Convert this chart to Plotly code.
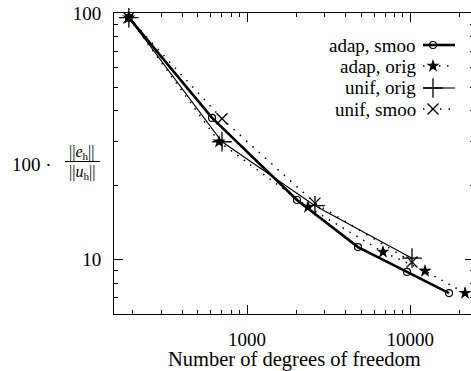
import plotly.graph_objects as go

# ---- data ----
adap_smoo_dofs = [189, 611, 2023, 4783, 9546, 17260]
adap_smoo_err = [95.7, 37.5, 17.4, 11.2, 8.88, 7.29]

adap_orig_dofs = [189, 674, 2363, 6804, 12300, 21630]
adap_orig_err = [95.7, 30.0, 16.3, 10.7, 8.96, 7.29]

unif_dofs = [189, 703, 2608, 10242]
unif_orig_err = [95.7, 30.0, 16.5, 10.1]
unif_smoo_err = [95.7, 37.2, 16.9, 9.75]

x_ticks = [1000, 10000]
x_tick_labels = ["1000", "10000"]
y_ticks = [10, 100]
y_tick_labels = ["10", "100"]
x_minor = [200, 300, 400, 500, 600, 700, 800, 900,
           2000, 3000, 4000, 5000, 6000, 7000, 8000, 9000, 20000]
y_minor = [7, 8, 9, 20, 30, 40, 50, 60, 70, 80, 90]

legend_names = ["adap, smoo", "adap, orig", "unif, orig", "unif, smoo"]

# ---- geometry ----
W, H = 475, 371
L, T, B, R = 114, 13, 57, 1
PW = W - L - R
PH = H - T - B
FONT = "Liberation Serif"


def px2paper(px, py):
    return (px - L) / PW, (H - B - py) / PH


styles = [
    dict(line=dict(color="black", width=2.6), marker=dict(symbol="circle-open", size=7, color="black", line=dict(width=1.2, color="black"))),
    dict(line=dict(color="black", width=1.5, dash="1.5px,6.5px"), marker=dict(symbol="star", size=10, color="black", line=dict(width=0))),
    dict(line=dict(color="black", width=1.1), marker=dict(symbol="cross-thin-open", size=14, color="black", line=dict(width=1.3, color="black"))),
    dict(line=dict(color="black", width=1.5, dash="1.5px,7px"), marker=dict(symbol="x-thin-open", size=11, color="black", line=dict(width=1.3, color="black"))),
]

series = [
    (adap_smoo_dofs, adap_smoo_err),
    (adap_orig_dofs, adap_orig_err),
    (unif_dofs, unif_orig_err),
    (unif_dofs, unif_smoo_err),
]

fig = go.Figure()
for (xs, ys), st, name in zip(series, styles, legend_names):
    fig.add_trace(go.Scatter(x=xs, y=ys, mode="lines+markers", name=name,
                             line=st["line"], marker=st["marker"], showlegend=False,
                             cliponaxis=False))

# legend keys drawn on an auxiliary pixel-like axis pair
row_y = [45, 66, 88, 109]
for ry, st, name in zip(row_y, styles, legend_names):
    fig.add_trace(go.Scatter(x=[423, 455], y=[ry, ry], mode="lines", line=st["line"],
                             xaxis="x2", yaxis="y2", showlegend=False, hoverinfo="skip"))
    fig.add_trace(go.Scatter(x=[433], y=[ry], mode="markers", marker=st["marker"],
                             xaxis="x2", yaxis="y2", showlegend=False, hoverinfo="skip"))
    ax, ay = px2paper(418, ry)
    fig.add_annotation(x=ax, y=ay, xref="paper", yref="paper", text=name, showarrow=False,
                       xanchor="right", yanchor="middle", font=dict(family=FONT, size=19, color="black"))

axis_common = dict(showline=True, linecolor="black", linewidth=1, mirror="ticks",
                   ticks="inside", ticklen=9, tickwidth=1, tickcolor="black",
                   showgrid=False, zeroline=False,
                   tickfont=dict(family=FONT, size=19, color="black"))

fig.update_layout(
    width=W, height=H,
    margin=dict(l=L, r=R, t=T, b=B),
    paper_bgcolor="white", plot_bgcolor="white",
    showlegend=False,
    xaxis=dict(type="log", range=[2.1855, 4.390], tickvals=x_ticks, ticktext=x_tick_labels,
               ticklabelstandoff=8,
               minor=dict(tickvals=x_minor, ticks="inside", ticklen=4, tickwidth=1, tickcolor="black"),
               **axis_common),
    yaxis=dict(type="log", range=[0.7776, 2.0], tickvals=y_ticks, ticktext=y_tick_labels,
               ticklabelstandoff=8,
               minor=dict(tickvals=y_minor, ticks="inside", ticklen=4, tickwidth=1, tickcolor="black"),
               **axis_common),
    xaxis2=dict(range=[L, W - R], overlaying="x", visible=False, fixedrange=True),
    yaxis2=dict(range=[H - B, T], overlaying="y", visible=False, fixedrange=True),
)

# x axis title
tx, ty = px2paper(294, 359)
fig.add_annotation(x=tx, y=ty, xref="paper", yref="paper", text="Number of degrees of freedom",
                   showarrow=False, xanchor="center", yanchor="middle",
                   font=dict(family=FONT, size=20.5, color="black"))

# y axis title: 100 · ||e_h|| / ||u_h||
ax1, ay1 = px2paper(54, 164)
fig.add_annotation(x=ax1, y=ay1, xref="paper", yref="paper", text="100 ·", showarrow=False,
                   xanchor="right", yanchor="middle", font=dict(family=FONT, size=19, color="black"))
nx, ny = px2paper(82, 152)
fig.add_annotation(x=nx, y=ny, xref="paper", yref="paper", text="||<i>e</i><sub>h</sub>||",
                   showarrow=False, xanchor="center", yanchor="middle",
                   font=dict(family=FONT, size=16, color="black"))
dx, dy = px2paper(82, 173)
fig.add_annotation(x=dx, y=dy, xref="paper", yref="paper", text="||<i>u</i><sub>h</sub>||",
                   showarrow=False, xanchor="center", yanchor="middle",
                   font=dict(family=FONT, size=16, color="black"))
b0x, by = px2paper(65, 161.5)
b1x, _ = px2paper(100, 161.5)
fig.add_shape(type="line", xref="paper", yref="paper", x0=b0x, x1=b1x, y0=by, y1=by,
              line=dict(color="black", width=1))

fig.write_html("out.html", config={"displayModeBar": False},
               post_script="document.body.style.margin='0';document.body.style.overflow='hidden';")
